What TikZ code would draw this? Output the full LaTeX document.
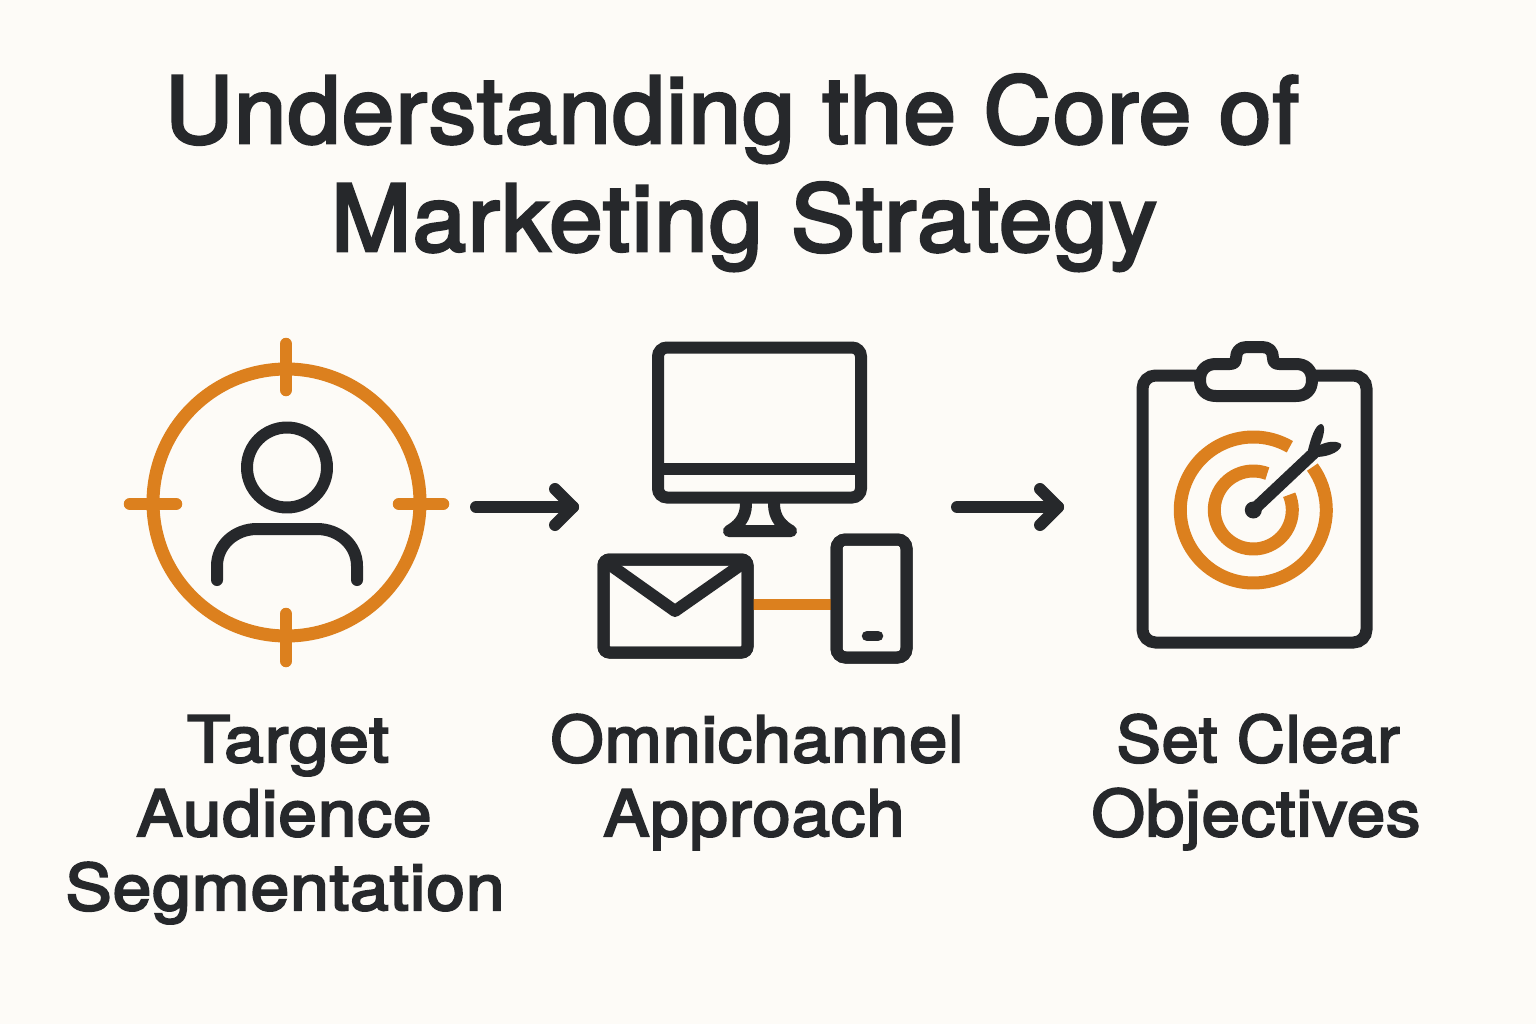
\documentclass[tikz,border=0pt]{standalone}
\usepackage{fontspec}
\setmainfont{TeX Gyre Heros}[FakeBold=3.2,LetterSpace=1.5]
\usetikzlibrary{calc}
\definecolor{bgc}{HTML}{FDFBF7}
\definecolor{ink}{HTML}{26282B}
\definecolor{amber}{HTML}{DC801E}
\newsavebox{\fitbox}
\newcommand{\fitw}[2]{\sbox{\fitbox}{#2}\pgfmathsetmacro{\fitr}{#1/\wd\fitbox}\scalebox{\fitr}[1]{\usebox{\fitbox}}}
\tikzset{
  x=1pt,y=-1pt,
  darkline/.style={draw=ink,line width=12pt,line cap=round,line join=round},
  amberline/.style={draw=amber,line width=12.5pt,line cap=round},
  ringline/.style={draw=amber,line width=13pt,line cap=butt},
  arrowline/.style={draw=ink,line width=12pt,line cap=round,line join=round},
  panel/.style={draw=ink,line width=12pt,rounded corners=9pt,inner sep=0pt,outer sep=0pt,fill=bgc},
  titletext/.style={anchor=base,inner sep=0pt,text=ink,font=\fontsize{92}{92}\selectfont},
  labeltext/.style={anchor=base,inner sep=0pt,text=ink,font=\fontsize{64}{64}\selectfont},
}
\begin{document}
\begin{tikzpicture}
\useasboundingbox (0,0) rectangle (1536,1024);
\fill[bgc] (0,0) rectangle (1536,1024);

% title
\node[titletext] (title1) at (732,143) {\fitw{1134}{Understanding the Core of}};
\node[titletext] (title2) at (744,251) {\fitw{826}{Marketing Strategy}};

% target audience icon
\coordinate (ringc) at (286.5,502.5);
\draw[amber,line width=13pt] (ringc) circle (133.5);
\draw[amberline] (286,344) -- (286,390);
\draw[amberline] (286,614) -- (286,661);
\draw[amberline] (130,504) -- (176,504);
\draw[amberline] (399,504) -- (443,504);
\draw[darkline] (287,467.5) circle (40);
\draw[darkline] (217,580) -- (217,566)
  .. controls (217,545) and (235,529) .. (257,529) -- (317,529)
  .. controls (339,529) and (357,545) .. (357,566) -- (357,580);

% monitor
\draw[darkline] (746,504) .. controls (746,518) and (738,526) .. (729,531)
  -- (791,531) .. controls (782,526) and (774,518) .. (774,504);
\node[panel,minimum width=203pt,minimum height=150pt] (monitor) at (759.5,422.5) {};
\draw[ink,line width=12pt] (monitor.west |- 0,469) -- (monitor.east |- 0,469);

% envelope and phone
\node[panel,minimum width=144pt,minimum height=93pt,rounded corners=6pt] (envelope) at (675.5,606) {};
\node[panel,minimum width=70pt,minimum height=118pt] (phone) at (871.5,598.5) {};
\draw[draw=amber,line width=11.5pt] (envelope.east |- 0,604.5) -- (phone.west |- 0,604.5);
\node[panel,fill=none,minimum width=144pt,minimum height=93pt,rounded corners=6pt] at (envelope) {};
\node[panel,fill=none,minimum width=70pt,minimum height=118pt] at (phone) {};
\draw[darkline] (606,562) -- (675,611) -- (745,562);
\draw[darkline,line width=10.5pt] (867,636) -- (878,636);

% clipboard
\node[panel,minimum width=224pt,minimum height=267pt,rounded corners=13pt] (board) at (1254.5,509) {};
\draw[darkline,fill=bgc] (1216,396) -- (1296,396)
  .. controls (1306,396) and (1312,390) .. (1312,380)
  .. controls (1312,370) and (1306,364) .. (1296,364) -- (1279,364)
  .. controls (1275,364) and (1273,362) .. (1273,358)
  .. controls (1273,351) and (1269,347) .. (1262,347) -- (1247,347)
  .. controls (1240,347) and (1236,351) .. (1236,358)
  .. controls (1236,362) and (1234,364) .. (1230,364) -- (1216,364)
  .. controls (1206,364) and (1200,370) .. (1200,380)
  .. controls (1200,390) and (1206,396) .. (1216,396) -- cycle;
\coordinate (bull) at (1253.3,510);
\draw[ringline] ($(bull)+(-60:73)$) arc (-60:-396:73);
\draw[ringline] ($(bull)+(-69:39)$) arc (-69:-383:39);
\draw[ink,line width=12pt] (bull) -- (1316,451);
\fill[ink] (bull) circle (8.5);
\fill[ink] (1308,450) .. controls (1311,438) and (1315,425) .. (1321,424)
  .. controls (1327,425) and (1323,438) .. (1320,445)
  .. controls (1326,442) and (1336,440) .. (1341,444)
  .. controls (1343,450) and (1330,457) .. (1316,457) -- cycle;

% connectors
\coordinate (a1s) at (476,507);
\coordinate (a1e) at (573,507);
\coordinate (a2s) at (957,507);
\coordinate (a2e) at (1058,507);
\draw[arrowline] (a1s) -- (a1e);
\draw[arrowline] ($(a1e)+(-18,-18)$) -- (a1e) -- ($(a1e)+(-18,18)$);
\draw[arrowline] (a2s) -- (a2e);
\draw[arrowline] ($(a2e)+(-18,-18)$) -- (a2e) -- ($(a2e)+(-18,18)$);

% labels
\node[labeltext] (lab1a) at (288,762) {\fitw{202}{Target}};
\node[labeltext] (lab1b) at (284,836) {\fitw{295}{Audience}};
\node[labeltext] (lab1c) at (285,910) {\fitw{439}{Segmentation}};
\node[labeltext] (lab2a) at (757,762) {\fitw{413}{Omnichannel}};
\node[labeltext] (lab2b) at (754,836) {\fitw{301}{Approach}};
\node[labeltext] (lab3a) at (1258,762) {\fitw{283}{Set Clear}};
\node[labeltext] (lab3b) at (1256,836) {\fitw{329}{Objectives}};
\end{tikzpicture}
\end{document}
